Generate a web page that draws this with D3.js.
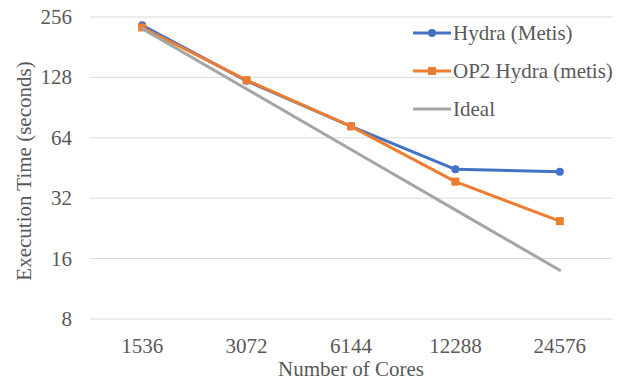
<!DOCTYPE html>
<html>
<head>
<meta charset="utf-8">
<script src="https://cdn.jsdelivr.net/npm/d3@7"></script>
<style>
  body { margin: 0; background: #fff; }
  #chart, #chart text { font-family: 'Liberation Serif', 'Times New Roman', Tinos, serif; }
</style>
</head>
<body>
<svg id="chart" width="628" height="381" font-family="Liberation Serif"></svg>
<script>
// data
const cores = ['1536', '3072', '6144', '12288', '24576'];
const hydraMetis = [233, 123, 73, 44.6, 43.4];
const op2Hydra   = [227, 124, 73, 38.7, 24.6];
const ideal      = [224, 112, 56, 28, 14];
const yTicks     = [8, 16, 32, 64, 128, 256];

const series = [
  { name: 'Hydra (Metis)',      values: hydraMetis, color: '#4472C4', marker: 'circle' },
  { name: 'OP2 Hydra (metis)',  values: op2Hydra,   color: '#ED7D31', marker: 'square' },
  { name: 'Ideal',              values: ideal,      color: '#A5A5A5', marker: null }
];

const svg = d3.select('#chart');
const plot = { left: 90, right: 612, top: 17, bottom: 319 };

const x = d3.scaleBand().domain(cores).range([plot.left, plot.right]);
const y = d3.scaleLog().base(2).domain([8, 256]).range([plot.bottom, plot.top]);

function label(sel) {
  return sel.attr('font-family', 'Liberation Serif').attr('font-size', 21).attr('fill', '#595959');
}

// gridlines
svg.append('g').selectAll('line').data(yTicks).join('line')
  .attr('x1', plot.left).attr('x2', plot.right)
  .attr('y1', d => y(d)).attr('y2', d => y(d))
  .attr('stroke', '#D9D9D9').attr('stroke-width', 1);

// lines + markers
const line = d3.line()
  .x((d, i) => x(cores[i]) + x.bandwidth() / 2)
  .y(d => y(d));

function drawMarker(g, type, cx, cy, color) {
  if (type === 'circle') {
    g.append('circle').attr('cx', cx).attr('cy', cy).attr('r', 4).attr('fill', color);
  } else if (type === 'square') {
    g.append('rect').attr('x', cx - 4).attr('y', cy - 4)
      .attr('width', 8).attr('height', 8).attr('fill', color);
  }
}

series.forEach(s => {
  const g = svg.append('g');
  g.append('path').datum(s.values)
    .attr('d', line).attr('fill', 'none')
    .attr('stroke', s.color).attr('stroke-width', 3)
    .attr('stroke-linejoin', 'round').attr('stroke-linecap', 'round');
  s.values.forEach((v, i) => drawMarker(g, s.marker, x(cores[i]) + x.bandwidth() / 2, y(v), s.color));
});

// legend marks
const legend = svg.append('g');
series.forEach((s, i) => {
  const ly = 33 + i * 38;
  legend.append('line')
    .attr('x1', 413).attr('x2', 451).attr('y1', ly).attr('y2', ly)
    .attr('stroke', s.color).attr('stroke-width', 3);
  drawMarker(legend, s.marker, 432, ly, s.color);
});

// all text in one group
const texts = svg.append('g');

texts.selectAll('text.ytick').data(yTicks).join('text').attr('class', 'ytick')
  .attr('x', 72).attr('y', d => y(d))
  .attr('dy', '0.33em').attr('text-anchor', 'end')
  .call(label)
  .text(d => d);

texts.selectAll('text.xtick').data(cores).join('text').attr('class', 'xtick')
  .attr('x', d => x(d) + x.bandwidth() / 2).attr('y', 353)
  .attr('text-anchor', 'middle')
  .call(label)
  .text(d => d);

texts.append('text')
  .attr('x', (plot.left + plot.right) / 2).attr('y', 376)
  .attr('text-anchor', 'middle').call(label)
  .text('Number of Cores');

texts.append('text')
  .attr('transform', 'translate(31, 171) rotate(-90)')
  .attr('text-anchor', 'middle').call(label)
  .text('Execution Time (seconds)');

texts.selectAll('text.leg').data(series).join('text').attr('class', 'leg')
  .attr('x', 453).attr('y', (d, i) => 33 + i * 38).attr('dy', '0.33em')
  .call(label)
  .text(d => d.name);
</script>
</body>
</html>
